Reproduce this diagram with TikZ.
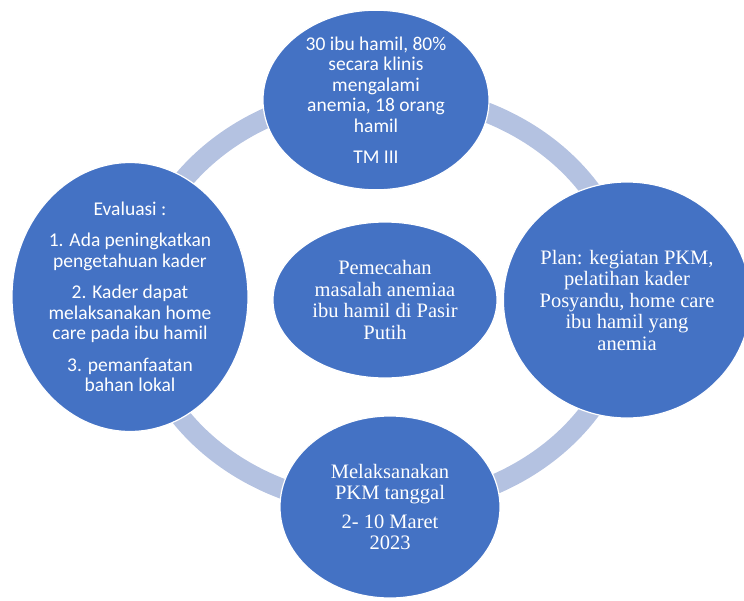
\documentclass[tikz,border=0pt]{standalone}
\usepackage{fontspec}
\setmainfont{Liberation Serif}
\newfontfamily\calib{Carlito}
\usetikzlibrary{shapes.geometric}
\definecolor{cycleblue}{HTML}{4472C4}
\definecolor{ringblue}{HTML}{B4C2E1}
\tikzset{
  bubble/.style={ellipse, fill=cycleblue, draw=white, line width=1.2pt,
    text=white, align=center, inner sep=0pt},
  sans/.style={font=\calib\fontsize{19.5}{20.5}\selectfont},
  serif/.style={font=\fontsize{20.5}{21.5}\selectfont},
  ring/.style={draw=ringblue, line width=20pt},
}

\begin{document}
\begin{tikzpicture}[x=1pt, y=-1pt]
    \useasboundingbox (0,0) rectangle (744,600);
    \coordinate (hub) at (383,300);
    \draw[ring] (hub) ellipse [x radius=245pt, y radius=207pt];
    \node[bubble, sans, minimum width=226pt, minimum height=176pt] (data) at (376,100)
      {30 ibu hamil, 80\%\\secara klinis\\mengalami\\anemia, 18 orang\\hamil\\[11pt]TM III};
    \node[bubble, serif, minimum width=242pt, minimum height=236pt] (plan) at (627,300)
      {Plan: kegiatan PKM,\\pelatihan kader\\Posyandu, home care\\ibu hamil yang\\anemia};
    \node[bubble, serif, minimum width=220pt, minimum height=182pt] (act) at (390,507)
      {Melaksanakan\\PKM tanggal\\[7pt]2- 10 Maret\\2023};
    \node[bubble, sans, minimum width=236pt, minimum height=230pt] (eval) at (130,297)
      {Evaluasi :\\[11pt]1. Ada peningkatkan\\pengetahuan kader\\[11pt]2. Kader dapat\\melaksanakan home\\care pada ibu hamil\\[11pt]3. pemanfaatan\\bahan lokal};
    \node[bubble, serif, minimum width=224pt, minimum height=156pt] (goal) at (385,300)
      {Pemecahan\\masalah anemiaa\\ibu hamil di Pasir\\Putih};
  \end{tikzpicture}
\end{document}
